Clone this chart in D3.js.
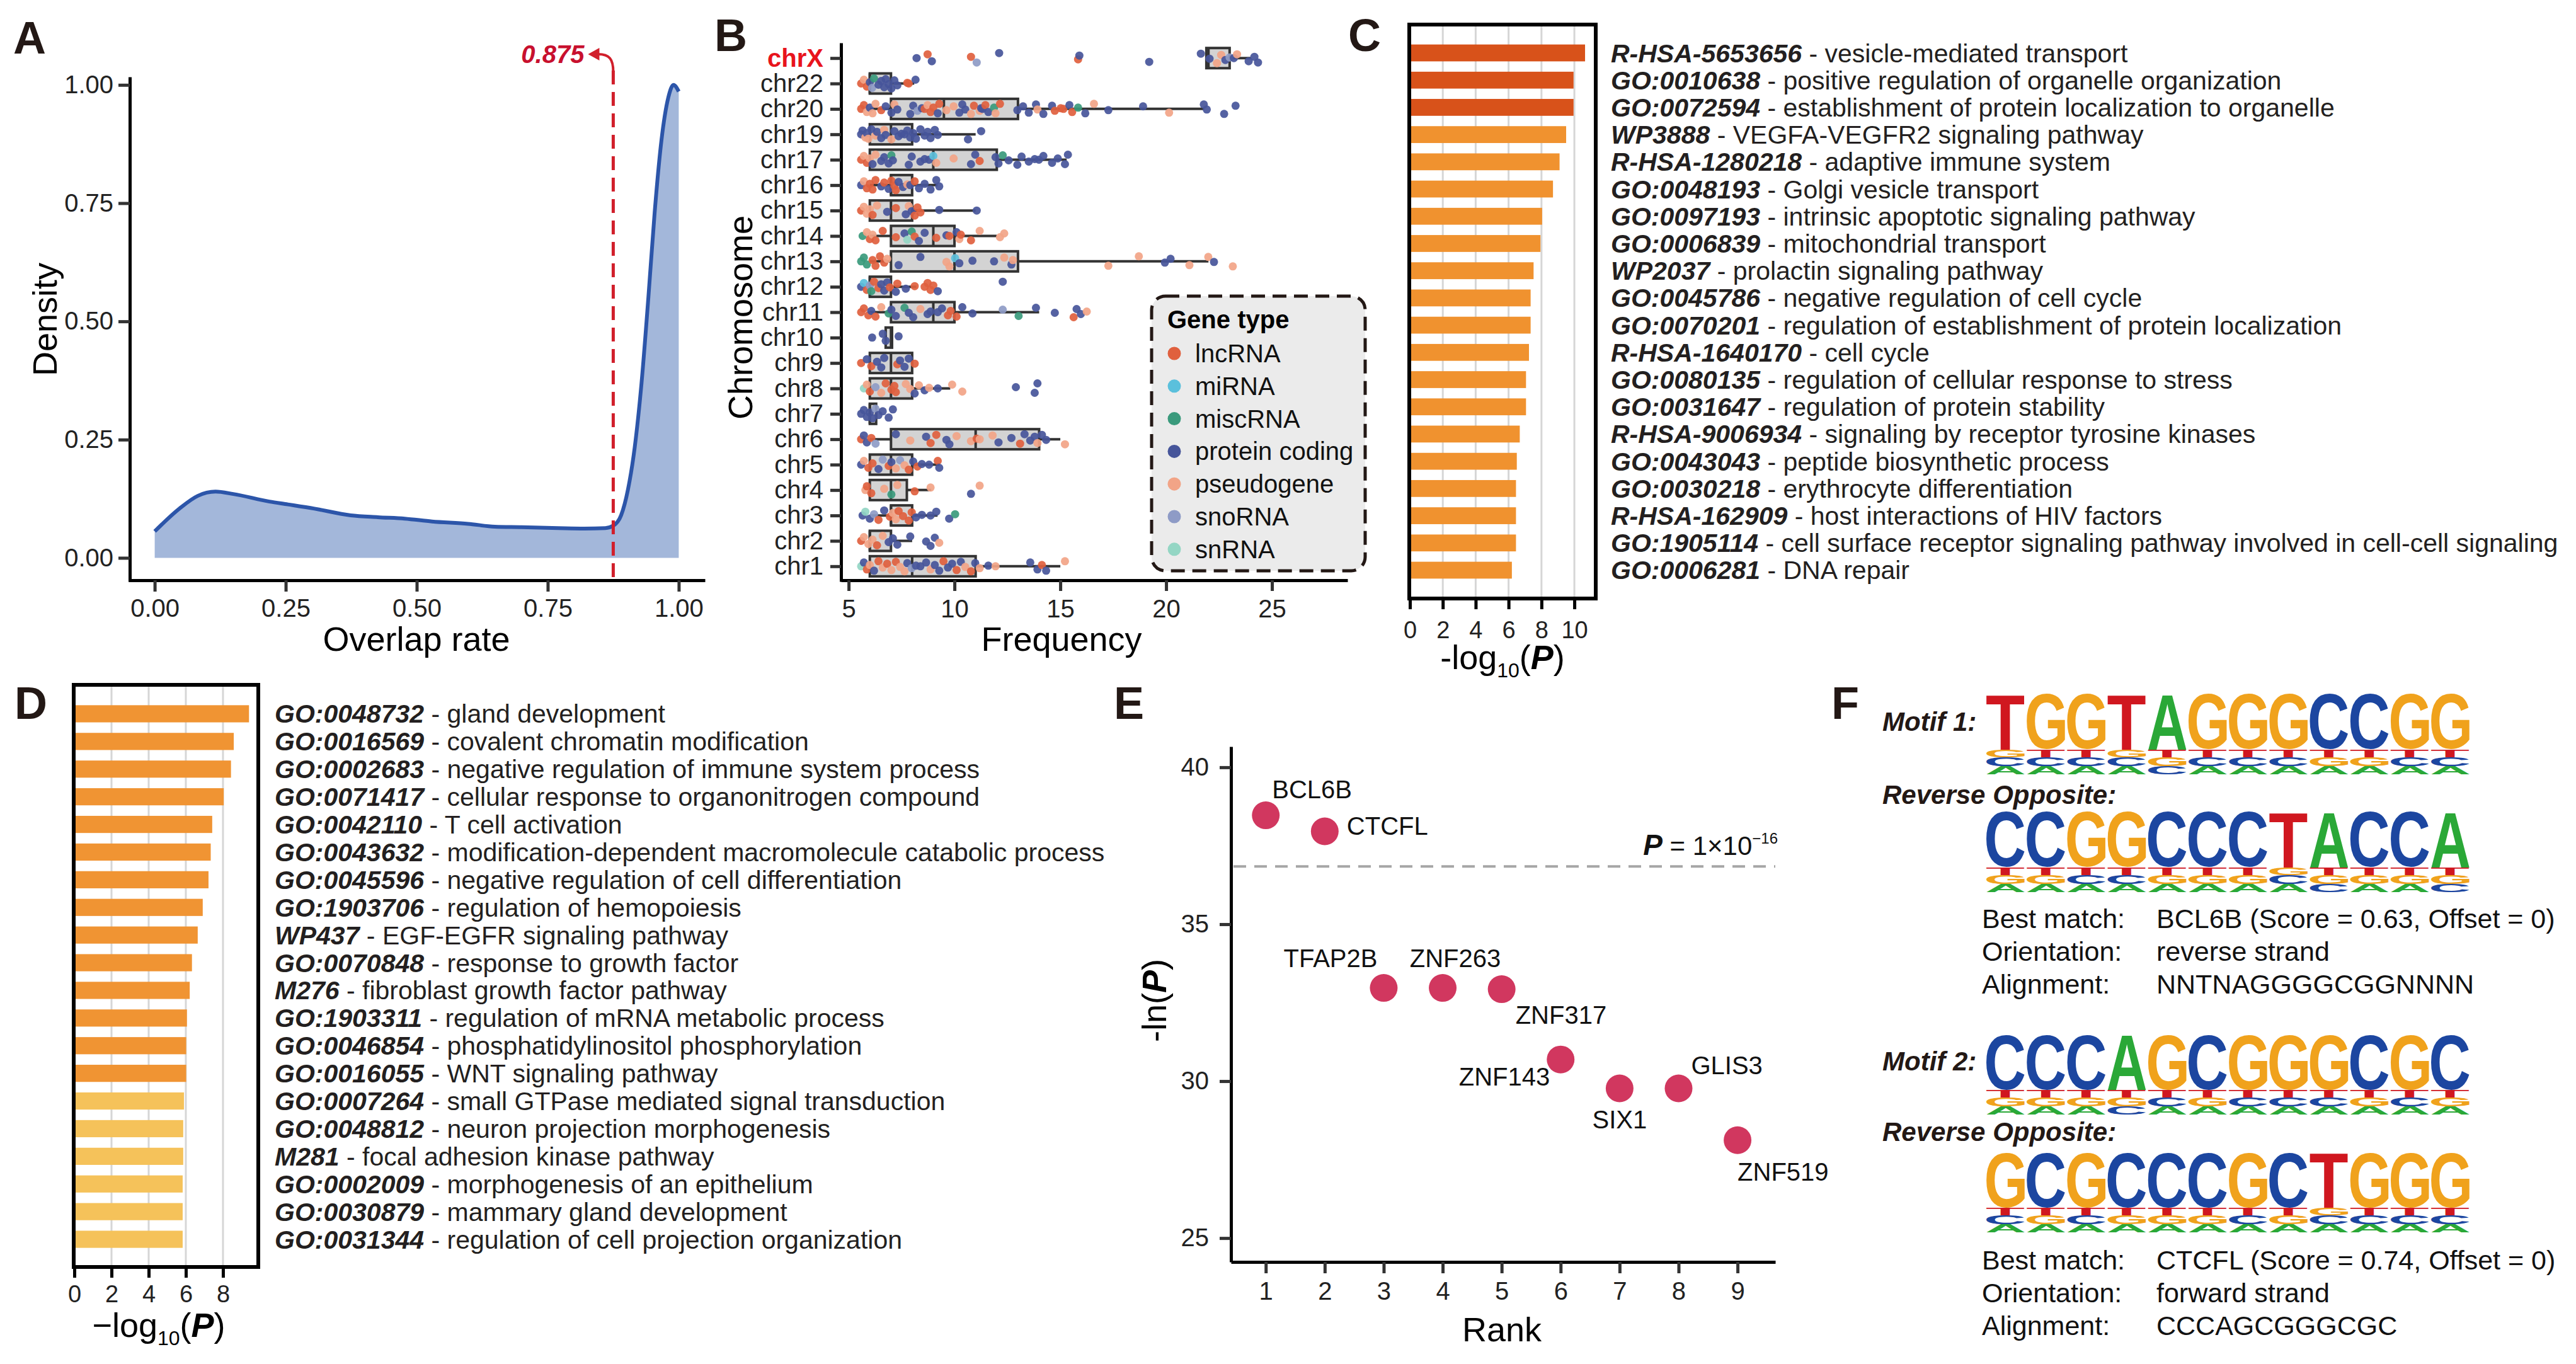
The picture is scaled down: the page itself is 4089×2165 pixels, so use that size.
<!DOCTYPE html>
<html lang="en">
<head>
<meta charset="UTF-8">
<title>Overlap, chromosome frequency, enrichment and motif panels</title>
<script src="https://d3js.org/d3.v7.min.js"></script>
<style>
  body { margin: 0; background: #fff; }
  svg { display: block; }
</style>
</head>
<body>
<svg id="fig"></svg>
<script>
// ---------- data ----------
// A: density of overlap rate
const densityX = [0, 0.047, 0.082, 0.116, 0.15, 0.219, 0.254, 0.305, 0.374, 0.426, 0.477, 0.529, 0.598, 0.649, 0.70, 0.77, 0.82, 0.86, 0.875, 0.89, 0.903, 0.916, 0.929, 0.942, 0.954, 0.967, 0.98, 0.99, 1.0];
const densityY = [0.056, 0.104, 0.131, 0.140, 0.135, 0.119, 0.113, 0.104, 0.090, 0.086, 0.083, 0.077, 0.072, 0.066, 0.065, 0.063, 0.062, 0.063, 0.068, 0.090, 0.144, 0.234, 0.370, 0.550, 0.730, 0.883, 0.973, 1.0, 0.986];
const overlapCutoff = 0.875;
const densityTicks = [0, 0.25, 0.5, 0.75, 1];

// B: frequency per chromosome
const chrNames = ["chrX","chr22","chr20","chr19","chr17","chr16","chr15","chr14","chr13","chr12","chr11","chr10","chr9","chr8","chr7","chr6","chr5","chr4","chr3","chr2","chr1"];
const boxLo  = [21.9, 6, 6, 6, 6, 6, 6, 6, 6, 6, 6, 6.75, 6, 6, 6, 6, 6, 6, 6, 6, 6];
const boxQ1  = [21.9, 6, 7, 6, 6, 7, 6, 7, 7, 6, 7, 6.75, 6, 6, 6, 7, 6, 6, 7, 6, 6];
const boxMed = [22, 6, 9.5, 7, 9, 7, 7, 9, 10, 6, 9, 7, 7, 7, 6, 11, 7, 7, 7, 6, 8];
const boxQ3  = [23, 7, 13, 8, 12, 8, 8, 10, 13, 7, 10, 7.05, 8, 8, 6.3, 14, 8, 7.75, 8, 7, 11];
const boxHi  = [24, 8.1, 21.8, 11, 15.3, 9.2, 11, 12, 22, 8.2, 14, 7.05, 8, 9.8, 6.3, 15, 9.3, 8.9, 9.2, 8, 15];
// points: value + gene type code (l lncRNA, m miRNA, i miscRNA, c protein coding, p pseudogene, o snoRNA, n snRNA)
const chrPoints = [
  "8.21c 8.73l 8.93c 10.78l 11.05o 12.11c 15.84l 15.9c 19.2c 21.64c 22.05c 22.4p 22.6p 22.8c 23.0o 23.2c 23.35p 23.9c 24.17c 24.34c",
  "5.59l 5.72p 5.86l 6.0c 6.11o 6.2i 6.41c 6.54c 6.68c 6.75c 6.89c 7.02c 7.16c 7.3c 7.77l 7.84l 8.16c",
  "5.59l 5.72l 5.86p 6.0c 6.13p 6.27p 6.54l 6.75c 7.02c 7.16p 7.3c 7.91c 8.05c 8.25o 8.46c 8.59l 8.73p 8.87l 9.0l 9.21c 9.28l 9.62p 9.96p 10.23c 10.37c 10.51c 10.78p 10.92l 11.19p 11.26c 11.33c 11.46l 11.6c 11.87i 11.94p 12.15l 12.97c 13.24c 13.51c 13.85c 13.92p 14.2c 14.61c 14.74l 15.02l 15.15l 15.43c 15.56l 15.84i 16.18c 16.59p 17.27c 18.91c 20.14p 21.78c 21.92c 22.74c 23.28c",
  "5.59c 5.66c 5.79p 5.86c 5.93p 6.07c 6.27p 6.34c 6.54c 6.68p 6.75c 7.02p 7.16c 7.36c 7.5c 7.64c 7.77c 7.91c 8.05c 8.18c 8.39c 8.59c 8.73c 8.87c 9.07c 9.21c 10.64c 11.26c",
  "5.59l 5.72p 5.86l 6.0p 6.13c 6.27p 6.54c 6.68c 6.89c 7.02i 7.09c 7.84c 7.98c 8.39c 8.59c 8.8c 9.0m 9.14p 9.96p 10.78c 10.98c 11.19l 11.94c 12.08c 12.28i 12.56c 12.97c 13.17c 13.51c 13.79c 13.99c 14.2c 14.61c 14.88c 15.22c 15.36c",
  "5.59c 5.72p 5.86l 6.0l 6.13l 6.27l 6.54c 6.68l 6.89c 7.02l 7.16l 7.23l 7.36c 7.57c 7.77p 7.91c 8.12l 8.32c 8.59c 8.87c 9.14c 9.28c",
  "5.59l 5.72p 5.86p 6.0p 6.13l 6.34p 6.82c 7.23l 7.7c 7.84p 7.98c 8.12l 8.25l 8.39l 9.28c 11.05c",
  "5.66i 5.86p 6.0l 6.13p 6.27l 6.61l 7.23l 7.64c 7.77n 7.98i 8.12l 8.32c 8.59c 9.14l 9.62c 9.76l 10.1c 10.23p 10.3l 10.78l 11.19p 12.15p 12.35p",
  "5.59i 5.72i 5.86i 6.13l 6.27l 6.48l 6.68l 6.82p 7.36c 8.39c 9.62p 9.76p 10.03m 10.23c 10.85c 11.87c 12.35p 12.69c 12.76p 17.27p 18.71p 19.94c 20.21c 21.1p 21.99p 22.26c 23.15p",
  "5.59c 5.72m 5.86l 6.0o 6.07i 6.2l 6.41l 6.54c 6.68c 6.82c 6.95l 7.23c 7.3l 7.7c 8.12l 8.59l 8.73l 8.87l 9.0l 9.21c 12.28c",
  "5.59l 5.72l 5.93l 6.07c 6.27l 6.54p 6.89i 7.02c 7.23c 7.64i 7.84c 8.05c 8.39p 8.73c 8.87c 9.21c 9.41c 9.69l 9.82l 10.1l 10.37c 10.85c 12.28o 13.03i 13.85c 14.74c 15.63l 15.77c 15.97c 16.25p",
  "6.11c 6.61c 6.75c 7.36c",
  "5.59l 5.86c 6.07l 6.34c 6.54c 6.68c 7.3l 7.43c 7.64c 7.84c 8.12l",
  "5.72n 5.86p 6.0l 6.27o 6.54p 6.75l 7.02l 7.16l 7.23l 7.7p 7.91p 8.12c 8.32p 8.59c 8.8p 9.21c 9.89p 10.37p 12.9c 13.79c 13.92c",
  "5.59c 5.72c 5.86c 6.0c 6.13c 6.27o 6.41c 6.61c 6.89c 7.09c",
  "5.59l 5.72c 5.86c 6.07l 6.27o 7.23c 7.91p 8.66c 8.87l 9.14l 9.62c 9.76c 10.1p 10.78p 11.05l 11.19p 11.8p 12.08c 12.69c 13.1l 13.31c 13.58c 13.79c 13.92p 14.13c 14.33c 15.22p",
  "5.59c 5.72p 5.93l 6.13l 6.41c 6.61o 6.89l 7.02c 7.23p 7.43o 7.64p 7.84l 8.05c 8.25l 8.46c 8.8c 9.21l 9.28c",
  "5.79p 5.86l 6.07l 6.68p 7.02i 7.3p 8.12l 8.87p 10.78c 11.19p",
  "5.66c 5.79n 6.0c 6.2o 6.41l 6.68c 6.95l 7.09p 7.23p 7.36l 7.57l 7.84l 7.98l 8.18c 8.46c 8.87c 9.14c 9.75c 10.03i",
  "5.59l 5.72p 5.93p 6.13p 6.34l 6.61p 6.89c 7.09c 7.3c 7.91c 8.66c 8.87c 9.07c 9.28p",
  "5.59n 5.72c 5.86l 6.0p 6.2c 6.41l 6.61p 6.82l 7.02p 7.23l 7.43p 7.64p 7.77c 7.98o 8.18c 8.39c 8.66c 8.87p 9.07c 9.28c 9.48l 9.69c 9.89c 10.1l 10.3c 10.51p 10.78l 10.98c 11.19p 11.6c 11.94p 13.58c 13.92c 14.13l 14.33c 15.22p"
];
const geneTypes = ["lncRNA", "miRNA", "miscRNA", "protein coding", "pseudogene", "snoRNA", "snRNA"];
const geneTypeCodes = ["l", "m", "i", "c", "p", "o", "n"];
const geneTypeColors = ["#e0603e", "#5bc0dc", "#3a9a7c", "#46559a", "#f2a487", "#8e9bc6", "#94d6c4"];
const freqTicks = [5, 10, 15, 20, 25];

// C: enrichment (set 1)
const cIds = ["R-HSA-5653656","GO:0010638","GO:0072594","WP3888","R-HSA-1280218","GO:0048193","GO:0097193","GO:0006839","WP2037","GO:0045786","GO:0070201","R-HSA-1640170","GO:0080135","GO:0031647","R-HSA-9006934","GO:0043043","GO:0030218","R-HSA-162909","GO:1905114","GO:0006281"];
const cTerms = ["vesicle-mediated transport","positive regulation of organelle organization","establishment of protein localization to organelle","VEGFA-VEGFR2 signaling pathway","adaptive immune system","Golgi vesicle transport","intrinsic apoptotic signaling pathway","mitochondrial transport","prolactin signaling pathway","negative regulation of cell cycle","regulation of establishment of protein localization","cell cycle","regulation of cellular response to stress","regulation of protein stability","signaling by receptor tyrosine kinases","peptide biosynthetic process","erythrocyte differentiation","host interactions of HIV factors","cell surface receptor signaling pathway involved in cell-cell signaling","DNA repair"];
const cValues = [10.65, 9.95, 9.95, 9.5, 9.1, 8.7, 8.04, 7.94, 7.52, 7.34, 7.34, 7.24, 7.06, 7.06, 6.68, 6.5, 6.45, 6.45, 6.45, 6.2];
const cTicks = [0, 2, 4, 6, 8, 10];

// D: enrichment (set 2)
const dIds = ["GO:0048732","GO:0016569","GO:0002683","GO:0071417","GO:0042110","GO:0043632","GO:0045596","GO:1903706","WP437","GO:0070848","M276","GO:1903311","GO:0046854","GO:0016055","GO:0007264","GO:0048812","M281","GO:0002009","GO:0030879","GO:0031344"];
const dTerms = ["gland development","covalent chromatin modification","negative regulation of immune system process","cellular response to organonitrogen compound","T cell activation","modification-dependent macromolecule catabolic process","negative regulation of cell differentiation","regulation of hemopoiesis","EGF-EGFR signaling pathway","response to growth factor","fibroblast growth factor pathway","regulation of mRNA metabolic process","phosphatidylinositol phosphorylation","WNT signaling pathway","small GTPase mediated signal transduction","neuron projection morphogenesis","focal adhesion kinase pathway","morphogenesis of an epithelium","mammary gland development","regulation of cell projection organization"];
const dValues = [9.4, 8.58, 8.43, 8.04, 7.42, 7.34, 7.22, 6.91, 6.64, 6.33, 6.21, 6.06, 6.02, 6.02, 5.9, 5.86, 5.86, 5.83, 5.83, 5.83];
const dTicks = [0, 2, 4, 6, 8];

// E: motif enrichment rank
const eGenes = ["BCL6B","CTCFL","TFAP2B","ZNF263","ZNF317","ZNF143","SIX1","GLIS3","ZNF519"];
const eRank = [1, 2, 3, 4, 5, 6, 7, 8, 9];
const eNegLnP = [38.47, 37.96, 32.97, 32.97, 32.93, 30.69, 29.77, 29.77, 28.12];
const ePThreshold = 1e-16;
const eYTicks = [25, 30, 35, 40];

// F: motif logos (each column lists bases top to bottom)
const motif1Cols = ["TGCA","GTCA","GTCA","TGCA","ATGC","GTCA","GTCA","GTCA","CTGA","CTGA","GTCA","GTCA"];
const rev1Cols   = ["CTGA","CTGA","GTCA","GTCA","CTGA","CTGA","CTGA","TGCA","ATGC","CTGA","CTGA","ATGC"];
const motif2Cols = ["CTGA","CTGA","CTGA","ATGC","GTCA","CTGA","GTCA","GTCA","GTCA","CTGA","GTCA","CTGA"];
const rev2Cols   = ["GTCA","CTGA","GTCA","CTGA","CTGA","CTGA","GTCA","CTGA","TGCA","GTCA","GTCA","GTCA"];
const stackShare = [0.69, 0.095, 0.115, 0.10];
const match1 = [["Best match:", "BCL6B (Score = 0.63, Offset = 0)"], ["Orientation:", "reverse strand"], ["Alignment:", "NNTNAGGGGCGGNNNN"]];
const match2 = [["Best match:", "CTCFL (Score = 0.74, Offset = 0)"], ["Orientation:", "forward strand"], ["Alignment:", "CCCAGCGGGCGC"]];

// ---------- setup ----------
const FONT = "'Liberation Sans', Arial, Helvetica, sans-serif";
const W = 4089, H = 2165;
const svg = d3.select("#fig").attr("width", W).attr("height", H).attr("font-family", FONT);
svg.append("rect").attr("width", W).attr("height", H).attr("fill", "#fff");

function styleAxis(g, size) {
  g.attr("font-family", FONT).attr("font-size", size);
  g.selectAll(".domain").attr("stroke", "#000").attr("stroke-width", 5);
  g.selectAll(".tick line").attr("stroke", "#333").attr("stroke-width", 5);
  g.selectAll(".tick text").attr("fill", "#222");
}

function panelLabel(t, x, y) {
  svg.append("text").attr("x", x).attr("y", y).attr("font-size", 72)
    .attr("font-weight", "bold").attr("fill", "#231815").text(t);
}

function title(x, y, size, rotate) {
  const t = svg.append("text").attr("font-size", size).attr("text-anchor", "middle").attr("fill", "#000");
  if (rotate) t.attr("transform", `translate(${x},${y}) rotate(-90)`).attr("dy", "0.35em");
  else t.attr("x", x).attr("y", y);
  return t;
}

// ---------- A ----------
panelLabel("A", 21, 85);
const xA = d3.scaleLinear().domain([-0.05, 1.05]).range([204, 1119]);
const yA = d3.scaleLinear().domain([-0.05, 1.017]).range([923, 122]);
const densityData = densityX.map((x, i) => ({ x, y: densityY[i] }));
svg.append("path").datum(densityData)
  .attr("d", d3.area().x(d => xA(d.x)).y0(yA(0)).y1(d => yA(d.y)).curve(d3.curveMonotoneX))
  .attr("fill", "#a3b7da");
svg.append("path").datum(densityData)
  .attr("d", d3.line().x(d => xA(d.x)).y(d => yA(d.y)).curve(d3.curveMonotoneX))
  .attr("fill", "none").attr("stroke", "#2c55a9").attr("stroke-width", 6);

const ax = xA(overlapCutoff);
svg.append("line").attr("x1", ax).attr("x2", ax).attr("y1", 112).attr("y2", 921)
  .attr("stroke", "#d11f2b").attr("stroke-width", 5).attr("stroke-dasharray", "22,12");
svg.append("path").attr("d", `M${ax},114 C${ax},94 ${ax - 6},86 ${ax - 24},86`)
  .attr("fill", "none").attr("stroke", "#d11f2b").attr("stroke-width", 4);
svg.append("path").attr("d", `M${ax - 40},86 L${ax - 22},76 L${ax - 22},96 Z`).attr("fill", "#d11f2b");
svg.append("text").attr("x", ax - 46).attr("y", 100).attr("text-anchor", "end")
  .attr("font-size", 40).attr("font-weight", "bold").attr("font-style", "italic")
  .attr("fill", "#c8102e").text(overlapCutoff.toFixed(3));

svg.append("g").attr("transform", "translate(206,0)")
  .call(d3.axisLeft(yA).tickValues(densityTicks).tickFormat(d3.format(".2f")).tickSize(18).tickPadding(8).tickSizeOuter(0))
  .call(g => styleAxis(g, 40));
svg.append("g").attr("transform", "translate(0,921)")
  .call(d3.axisBottom(xA).tickValues(densityTicks).tickFormat(d3.format(".2f")).tickSize(18).tickPadding(12).tickSizeOuter(0))
  .call(g => styleAxis(g, 40));
title(71, 507, 54, true).text("Density");
title(661, 1033, 54, false).text("Overlap rate");

// ---------- B ----------
panelLabel("B", 1134, 81);
const xB = d3.scaleLinear().domain([4.64, 28.57]).range([1335, 2139]);
const yB = d3.scalePoint().domain(chrNames).range([68, 923]).padding(0.6);
const boxH = 32;
const jitter = [0, -6, 5, -2, 7, -8, 2, -4, 6, -7, 1, 8, -5, 3, -1];
const colorOf = d3.scaleOrdinal().domain(geneTypeCodes).range(geneTypeColors);

const gB = svg.append("g");
chrNames.forEach((c, i) => {
  const y = yB(c);
  gB.append("line").attr("x1", xB(boxLo[i])).attr("x2", xB(boxHi[i])).attr("y1", y).attr("y2", y)
    .attr("stroke", "#333").attr("stroke-width", 4);
  gB.append("rect").attr("x", xB(boxQ1[i])).attr("y", y - boxH / 2)
    .attr("width", xB(boxQ3[i]) - xB(boxQ1[i])).attr("height", boxH)
    .attr("fill", "#d3d3d3").attr("stroke", "#333").attr("stroke-width", 4);
  gB.append("line").attr("x1", xB(boxMed[i])).attr("x2", xB(boxMed[i]))
    .attr("y1", y - boxH / 2).attr("y2", y + boxH / 2).attr("stroke", "#333").attr("stroke-width", 4);
});
chrNames.forEach((c, i) => {
  const pts = chrPoints[i].split(" ").map(s => ({ v: +s.slice(0, -1), t: s.slice(-1) }));
  gB.selectAll(null).data(pts).join("circle")
    .attr("cx", d => xB(d.v)).attr("cy", (d, k) => yB(c) + jitter[k % jitter.length])
    .attr("r", 6.5).attr("fill", d => colorOf(d.t)).attr("fill-opacity", 0.92);
});

svg.append("g").attr("transform", "translate(1335,0)")
  .call(d3.axisLeft(yB).tickSize(17).tickPadding(11).tickSizeOuter(0))
  .call(g => styleAxis(g, 40))
  .call(g => g.selectAll(".tick text").filter(d => d === "chrX")
    .attr("fill", "#e8141c").attr("font-weight", "bold"));
svg.append("g").attr("transform", "translate(0,921)")
  .call(d3.axisBottom(xB).tickValues(freqTicks).tickSize(17).tickPadding(14).tickSizeOuter(0))
  .call(g => styleAxis(g, 40));
title(1175, 504, 54, true).text("Chromosome");
title(1685, 1033, 54, false).text("Frequency");

// legend
const gLeg = svg.append("g");
gLeg.append("rect").attr("x", 1828).attr("y", 470).attr("width", 339).attr("height", 436).attr("rx", 22)
  .attr("fill", "#ebebeb").attr("stroke", "#231815").attr("stroke-width", 5).attr("stroke-dasharray", "22,12");
gLeg.append("text").attr("x", 1853).attr("y", 521).attr("font-size", 40).attr("font-weight", "bold").text("Gene type");
geneTypes.forEach((t, i) => {
  const cy = 561 + i * 51.8;
  gLeg.append("circle").attr("cx", 1864).attr("cy", cy).attr("r", 10.5).attr("fill", geneTypeColors[i]);
  gLeg.append("text").attr("x", 1897).attr("y", cy + 14).attr("font-size", 40).attr("fill", "#111").text(t);
});

// ---------- C & D (bar panels) ----------
function barPanel(opt) {
  const { ids, terms, values, ticks, frame, domainMax, bandRange, colors, labelX, titleX, titleY, minus, tickPad } = opt;
  const x = d3.scaleLinear().domain([0, domainMax]).range([frame.x0 + 1, frame.x1]);
  const y = d3.scaleBand().domain(d3.range(values.length)).range(bandRange).paddingInner(0.38).paddingOuter(0.19);
  const g = svg.append("g");
  g.selectAll(".grid").data(ticks.filter(t => t > 0)).join("line")
    .attr("x1", d => x(d)).attr("x2", d => x(d)).attr("y1", frame.y0).attr("y2", frame.y1)
    .attr("stroke", "#d6d6d6").attr("stroke-width", 3);
  g.selectAll(".bar").data(values).join("rect")
    .attr("x", x(0)).attr("y", (d, i) => y(i)).attr("width", d => x(d) - x(0)).attr("height", y.bandwidth())
    .attr("fill", (d, i) => colors(i));
  g.append("rect").attr("x", frame.x0).attr("y", frame.y0)
    .attr("width", frame.x1 - frame.x0).attr("height", frame.y1 - frame.y0)
    .attr("fill", "none").attr("stroke", "#000").attr("stroke-width", 6);
  svg.append("g").attr("transform", `translate(0,${frame.y1})`)
    .call(d3.axisBottom(x).tickValues(ticks).tickSize(17).tickPadding(tickPad).tickSizeOuter(0))
    .call(gg => { styleAxis(gg, 38); gg.select(".domain").remove(); gg.selectAll(".tick line").attr("stroke", "#000"); });
  values.forEach((v, i) => {
    const t = g.append("text").attr("x", labelX).attr("y", y(i) + y.bandwidth() / 2 + 14.5)
      .attr("font-size", 41).attr("fill", "#231f20");
    t.append("tspan").attr("font-weight", "bold").attr("font-style", "italic").text(ids[i]);
    t.append("tspan").text(" - " + terms[i]);
  });
  const tt = title(titleX, titleY, 54, false);
  tt.append("tspan").text(minus + "log");
  tt.append("tspan").attr("font-size", 32).attr("dy", 13).text("10");
  tt.append("tspan").attr("dy", -13).text("(");
  tt.append("tspan").attr("font-weight", "bold").attr("font-style", "italic").text("P");
  tt.append("tspan").text(")");
}

panelLabel("C", 2140, 81);
barPanel({
  ids: cIds, terms: cTerms, values: cValues, ticks: cTicks, domainMax: 11.3,
  frame: { x0: 2237, x1: 2533, y0: 39, y1: 950 }, bandRange: [62.4, 926.6],
  colors: i => i < 3 ? "#d8521a" : "#f0922f", labelX: 2557, titleX: 2385, titleY: 1062, minus: "-", tickPad: 19
});

panelLabel("D", 23, 1141);
barPanel({
  ids: dIds, terms: dTerms, values: dValues, ticks: dTicks, domainMax: 9.9,
  frame: { x0: 117, x1: 410, y0: 1087, y1: 2011 }, bandRange: [1111, 1989],
  colors: i => i < 14 ? "#f09433" : "#f5c25a", labelX: 436, titleX: 252, titleY: 2122, minus: "\u2212", tickPad: 12
});

// ---------- E ----------
panelLabel("E", 1768, 1141);
const xE = d3.scaleLinear().domain([0.41, 9.64]).range([1954, 2818]);
const yE = d3.scaleLinear().domain([24.24, 40.66]).range([2003, 1185]);
const thrY = yE(-Math.log(ePThreshold));
svg.append("line").attr("x1", 1958).attr("x2", 2818).attr("y1", thrY).attr("y2", thrY)
  .attr("stroke", "#a6a6a6").attr("stroke-width", 4).attr("stroke-dasharray", "20,13");
const thrLabel = svg.append("text").attr("x", 2822).attr("y", thrY - 18).attr("text-anchor", "end")
  .attr("font-size", 42).attr("fill", "#111");
thrLabel.append("tspan").attr("font-weight", "bold").attr("font-style", "italic").attr("font-size", 46).text("P");
thrLabel.append("tspan").text(" = 1\u00d710");
thrLabel.append("tspan").attr("font-size", 24).attr("dy", -18).text("\u221216");

const eLabelPlace = [
  { dx: 10, dy: -27, anchor: "start" }, { dx: 35, dy: 5, anchor: "start" },
  { dx: -10, dy: -33, anchor: "end" }, { dx: 20, dy: -33, anchor: "middle" },
  { dx: 22, dy: 55, anchor: "start" }, { dx: -17, dy: 41, anchor: "end" },
  { dx: 0, dy: 63, anchor: "middle" }, { dx: 20, dy: -23, anchor: "start" },
  { dx: 0, dy: 64, anchor: "start" }
];
svg.selectAll(".ept").data(eGenes).join("circle")
  .attr("cx", (d, i) => xE(eRank[i])).attr("cy", (d, i) => yE(eNegLnP[i]))
  .attr("r", 22).attr("fill", "#d1375f");
svg.selectAll(".elab").data(eGenes).join("text")
  .attr("x", (d, i) => xE(eRank[i]) + eLabelPlace[i].dx)
  .attr("y", (d, i) => yE(eNegLnP[i]) + eLabelPlace[i].dy)
  .attr("text-anchor", (d, i) => eLabelPlace[i].anchor)
  .attr("font-size", 40).attr("fill", "#111").text(d => d);

svg.append("g").attr("transform", "translate(1954,0)")
  .call(d3.axisLeft(yE).tickValues(eYTicks).tickSize(18).tickPadding(17).tickSizeOuter(0))
  .call(g => styleAxis(g, 40));
svg.append("g").attr("transform", "translate(0,2003)")
  .call(d3.axisBottom(xE).tickValues(eRank).tickSize(18).tickPadding(14).tickSizeOuter(0))
  .call(g => styleAxis(g, 40));
const eyt = title(1832, 1588, 54, true);
eyt.append("tspan").text("-ln(");
eyt.append("tspan").attr("font-weight", "bold").attr("font-style", "italic").text("P");
eyt.append("tspan").text(")");
title(2384, 2129, 54, false).text("Rank");

// ---------- F ----------
panelLabel("F", 2907, 1141);
const baseColor = { A: "#2aa837", C: "#1c46a0", G: "#f0a21c", T: "#d0171f" };
const mctx = document.createElement("canvas").getContext("2d");
mctx.font = `bold 100px ${FONT}`;
const glyphCache = {};
function glyphMetrics(b) {
  if (!glyphCache[b]) {
    const m = mctx.measureText(b);
    glyphCache[b] = {
      left: m.actualBoundingBoxLeft, asc: m.actualBoundingBoxAscent,
      w: m.actualBoundingBoxLeft + m.actualBoundingBoxRight,
      h: m.actualBoundingBoxAscent + m.actualBoundingBoxDescent
    };
  }
  return glyphCache[b];
}
const xLogo = d3.scaleBand().domain(d3.range(12)).range([3153, 3920]).paddingInner(0.05);
function drawLogo(cols, top, totalH) {
  const g = svg.append("g");
  cols.forEach((col, i) => {
    let y = top;
    col.split("").forEach((b, k) => {
      const h = totalH * stackShare[k];
      const m = glyphMetrics(b);
      g.append("text").attr("font-size", 100).attr("font-weight", "bold").attr("fill", baseColor[b])
        .attr("transform", `translate(${xLogo(i)},${y}) scale(${xLogo.bandwidth() / m.w},${h / m.h}) translate(${m.left},${m.asc})`)
        .text(b);
      y += h;
    });
  });
}
function fLabel(text, y) {
  svg.append("text").attr("x", 2988).attr("y", y).attr("font-size", 42)
    .attr("font-weight", "bold").attr("font-style", "italic").attr("fill", "#231815").text(text);
}
function matchBlock(rows, y0) {
  rows.forEach((r, i) => {
    svg.append("text").attr("x", 3146).attr("y", y0 + i * 52).attr("font-size", 43).attr("fill", "#111").text(r[0]);
    svg.append("text").attr("x", 3423).attr("y", y0 + i * 52).attr("font-size", 43).attr("fill", "#111").text(r[1]);
  });
}
fLabel("Motif 1:", 1160);
drawLogo(motif1Cols, 1102, 127);
fLabel("Reverse Opposite:", 1276);
drawLogo(rev1Cols, 1289, 127);
matchBlock(match1, 1473);
fLabel("Motif 2:", 1699);
drawLogo(motif2Cols, 1643, 126);
fLabel("Reverse Opposite:", 1811);
drawLogo(rev2Cols, 1830, 126);
matchBlock(match2, 2015);
</script>
</body>
</html>
